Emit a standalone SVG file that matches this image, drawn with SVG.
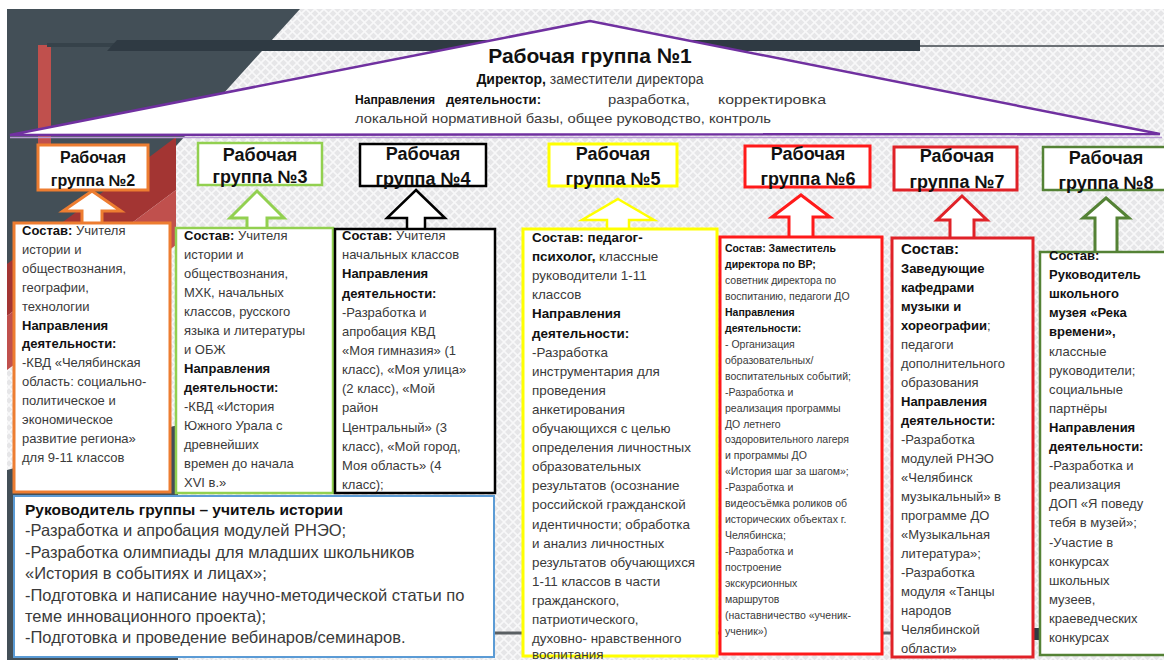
<svg xmlns="http://www.w3.org/2000/svg" width="1164" height="660" viewBox="0 0 1164 660">
<defs>
<pattern id="hatch" width="9" height="9" patternUnits="userSpaceOnUse">
<rect width="9" height="9" fill="#e6e6e8"/>
<path d="M0,0 L9,9 M9,0 L0,9" stroke="#f8f8f9" stroke-width="1.6"/>
</pattern>
<style>
text{font-family:"Liberation Sans",Arial,sans-serif;fill:#3a3a3a}
.b{font-weight:bold;fill:#111}
.hd{font-weight:bold;fill:#111;text-anchor:middle}
.c13{font-size:13px}
.c133{font-size:13.4px}
.c10{font-size:10.5px}
.c16{font-size:16.5px}
.box{fill:#fff}
.arr{fill:#fff;stroke-linejoin:miter}
</style>
</defs>

<!-- background -->
<rect width="1164" height="660" fill="#fff"/>
<rect x="7" y="9" width="1157" height="651" fill="url(#hatch)"/>
<polygon points="7,9 300,9 176,146 7,266" fill="#434f57"/>
<polygon points="176,137 176,190 7,316 7,264" fill="#a33533"/>
<polygon points="176,190 176,245 7,370 7,316" fill="#c0504d"/>
<polygon points="7,470 178,425 178,660 7,660" fill="#434f57"/>
<rect x="38" y="45" width="13" height="100" fill="#c0504d"/>
<rect x="47" y="43" width="70" height="4" fill="#36424a"/>
<polygon points="117,40 920,40 920,51 107,51" fill="#2f3a43"/>
<line x1="920" y1="46" x2="1164" y2="46" stroke="#6b7075" stroke-width="2"/>
<line x1="495" y1="633" x2="1164" y2="633" stroke="#5a5f63" stroke-width="3"/>
<rect x="1032" y="628" width="9" height="12" fill="#2f3a43"/>

<!-- roof: group 1 -->
<g id="group1">
<polygon points="10,135 590,21 1160,134" fill="#fff" stroke="#7030a0" stroke-width="2.5" stroke-linejoin="miter"/>
<line x1="10" y1="137.5" x2="1162" y2="137.5" stroke="#b79ad3" stroke-width="1.5"/>
<text class="hd" x="590" y="63" font-size="21">Рабочая группа №1</text>
<text x="590" y="84" font-size="14" text-anchor="middle"><tspan class="b">Директор,</tspan> заместители директора</text>
<text y="104" font-size="13.5"><tspan class="b" x="355" textLength="80" lengthAdjust="spacingAndGlyphs">Направления</tspan><tspan class="b" x="446" textLength="95" lengthAdjust="spacingAndGlyphs">деятельности:</tspan><tspan x="608" textLength="82" lengthAdjust="spacingAndGlyphs">разработка,</tspan><tspan x="718" textLength="108" lengthAdjust="spacingAndGlyphs">корректировка</tspan></text>
<text x="355" y="123" font-size="13.5" textLength="416" lengthAdjust="spacingAndGlyphs">локальной нормативной базы, общее руководство, контроль</text>
</g>

<!-- connectors: block arrows -->
<g id="connectors" stroke-width="3">
<polygon class="arr" stroke="#ed7d31" points="92,191 121,211 102,211 102,226 82,226 82,211 63,211"/>
<polygon class="arr" stroke="#92d050" points="257,191 284,218 267,218 267,230 247,230 247,218 230,218"/>
<polygon class="arr" stroke="#000" stroke-width="2.5" points="416,190 445,218 425,218 425,231 407,231 407,218 387,218"/>
<polygon class="arr" stroke="#ffff00" stroke-width="2.5" points="618,199 654,220 629,220 629,231 607,231 607,220 582,220"/>
<polygon class="arr" stroke="#ff1a1a" points="801,195 830,217 813,217 813,239 789,239 789,217 772,217"/>
<polygon class="arr" stroke="#e02228" points="962,196 987,220 974,220 974,240 950,240 950,220 937,220"/>
<polygon class="arr" stroke="#548235" points="1106,198 1129,218 1117,218 1117,254 1095,254 1095,218 1083,218"/>
</g>

<!-- group 2 -->
<g id="group2">
<rect class="box" x="38" y="145" width="110" height="45" stroke="#ed7d31" stroke-width="3"/>
<text class="hd" x="93" y="163" font-size="16">Рабочая</text>
<text class="hd" x="93" y="186" font-size="16">группа  №2</text>
<rect class="box" x="14" y="223" width="156" height="269" stroke="#ed7d31" stroke-width="3"/>
<text class="c13">
<tspan x="22" y="235"><tspan class="b">Состав:</tspan> Учителя</tspan>
<tspan x="22" y="253.9">истории и</tspan>
<tspan x="22" y="272.8">обществознания,</tspan>
<tspan x="22" y="291.7">географии,</tspan>
<tspan x="22" y="310.6">технологии</tspan>
<tspan x="22" y="329.5" class="b">Направления</tspan>
<tspan x="22" y="348.4" class="b">деятельности:</tspan>
<tspan x="22" y="367.3">-КВД «Челябинская</tspan>
<tspan x="22" y="386.2">область: социально-</tspan>
<tspan x="22" y="405.1">политическое и</tspan>
<tspan x="22" y="424">экономическое</tspan>
<tspan x="22" y="442.9">развитие региона»</tspan>
<tspan x="22" y="461.8">для 9-11 классов</tspan>
</text>
</g>

<!-- group 3 -->
<g id="group3">
<rect class="box" x="198" y="143" width="124" height="42" stroke="#92d050" stroke-width="2.5"/>
<text class="hd" x="260" y="161" font-size="18">Рабочая</text>
<text class="hd" x="260" y="183" font-size="18">группа №3</text>
<rect class="box" x="176" y="228" width="157" height="265" stroke="#92d050" stroke-width="2.5"/>
<text class="c13">
<tspan x="184" y="240"><tspan class="b">Состав:</tspan> Учителя</tspan>
<tspan x="184" y="259">истории и</tspan>
<tspan x="184" y="278">обществознания,</tspan>
<tspan x="184" y="297">МХК, начальных</tspan>
<tspan x="184" y="316">классов, русского</tspan>
<tspan x="184" y="335">языка и литературы</tspan>
<tspan x="184" y="354">и ОБЖ</tspan>
<tspan x="184" y="373" class="b">Направления</tspan>
<tspan x="184" y="392" class="b">деятельности:</tspan>
<tspan x="184" y="411">-КВД «История</tspan>
<tspan x="184" y="430">Южного Урала с</tspan>
<tspan x="184" y="449">древнейших</tspan>
<tspan x="184" y="468">времен до начала</tspan>
<tspan x="184" y="487">XVI в.»</tspan>
</text>
</g>

<!-- group 4 -->
<g id="group4">
<rect class="box" x="360" y="144" width="126" height="42" stroke="#000" stroke-width="2.5"/>
<text class="hd" x="423" y="160" font-size="18">Рабочая</text>
<text class="hd" x="423" y="185" font-size="18">группа №4</text>
<rect class="box" x="335" y="229" width="160" height="264" stroke="#000" stroke-width="2.5"/>
<text class="c13">
<tspan x="342" y="240"><tspan class="b">Состав:</tspan> Учителя</tspan>
<tspan x="342" y="259.2">начальных классов</tspan>
<tspan x="342" y="278.3" class="b">Направления</tspan>
<tspan x="342" y="297.5" class="b">деятельности:</tspan>
<tspan x="342" y="316.6">-Разработка и</tspan>
<tspan x="342" y="335.8">апробация КВД</tspan>
<tspan x="342" y="354.9">«Моя гимназия» (1</tspan>
<tspan x="342" y="374.1">класс), «Моя улица»</tspan>
<tspan x="342" y="393.2">(2 класс), «Мой</tspan>
<tspan x="342" y="412.4">район</tspan>
<tspan x="342" y="431.5">Центральный» (3</tspan>
<tspan x="342" y="450.7">класс), «Мой город,</tspan>
<tspan x="342" y="469.8">Моя область» (4</tspan>
<tspan x="342" y="489">класс);</tspan>
</text>
</g>

<!-- group 5 -->
<g id="group5">
<rect class="box" x="549" y="144" width="128" height="42" stroke="#ffff00" stroke-width="3"/>
<text class="hd" x="613" y="160" font-size="18">Рабочая</text>
<text class="hd" x="613" y="185" font-size="18">группа №5</text>
<rect class="box" x="523" y="229" width="194" height="427" stroke="#ffff00" stroke-width="3"/>
<text class="c133">
<tspan x="532" y="242" class="b">Состав: педагог-</tspan>
<tspan x="532" y="261.1"><tspan class="b">психолог,</tspan> классные</tspan>
<tspan x="532" y="280.2">руководители 1-11</tspan>
<tspan x="532" y="299.3">классов</tspan>
<tspan x="532" y="318.4" class="b">Направления</tspan>
<tspan x="532" y="337.5" class="b">деятельности:</tspan>
<tspan x="532" y="356.6">-Разработка</tspan>
<tspan x="532" y="375.7">инструментария для</tspan>
<tspan x="532" y="394.8">проведения</tspan>
<tspan x="532" y="413.9">анкетирования</tspan>
<tspan x="532" y="433">обучающихся с целью</tspan>
<tspan x="532" y="452.1">определения личностных</tspan>
<tspan x="532" y="471.2">образовательных</tspan>
<tspan x="532" y="490.3">результатов (осознание</tspan>
<tspan x="532" y="509.4">российской гражданской</tspan>
<tspan x="532" y="528.5">идентичности; обработка</tspan>
<tspan x="532" y="547.6">и анализ личностных</tspan>
<tspan x="532" y="566.7">результатов обучающихся</tspan>
<tspan x="532" y="585.8">1-11 классов в части</tspan>
<tspan x="532" y="604.9">гражданского,</tspan>
<tspan x="532" y="624">патриотического,</tspan>
<tspan x="532" y="643.1">духовно- нравственного</tspan>
<tspan x="532" y="658.5">воспитания</tspan>
</text>
</g>

<!-- group 6 -->
<g id="group6">
<rect class="box" x="745" y="146" width="125" height="41" stroke="#ff1a1a" stroke-width="3"/>
<text class="hd" x="808" y="160" font-size="18">Рабочая</text>
<text class="hd" x="808" y="185" font-size="18">группа №6</text>
<rect class="box" x="720" y="237" width="162" height="417" stroke="#ff1a1a" stroke-width="3"/>
<text class="c10">
<tspan x="725" y="252" class="b">Состав: Заместитель</tspan>
<tspan x="725" y="268" class="b">директора по ВР;</tspan>
<tspan x="725" y="283.9">советник директора по</tspan>
<tspan x="725" y="299.9">воспитанию, педагоги ДО</tspan>
<tspan x="725" y="315.8" class="b">Направления</tspan>
<tspan x="725" y="331.8" class="b">деятельности:</tspan>
<tspan x="725" y="347.7">- Организация</tspan>
<tspan x="725" y="363.7">образовательных/</tspan>
<tspan x="725" y="379.6">воспитательных событий;</tspan>
<tspan x="725" y="395.6">-Разработка и</tspan>
<tspan x="725" y="411.5">реализация программы</tspan>
<tspan x="725" y="427.5">ДО летнего</tspan>
<tspan x="725" y="443.4">оздоровительного лагеря</tspan>
<tspan x="725" y="459.4">и программы ДО</tspan>
<tspan x="725" y="475.3">«История шаг за шагом»;</tspan>
<tspan x="725" y="491.3">-Разработка и</tspan>
<tspan x="725" y="507.2">видеосъёмка роликов об</tspan>
<tspan x="725" y="523.2">исторических объектах г.</tspan>
<tspan x="725" y="539.1">Челябинска;</tspan>
<tspan x="725" y="555.1">-Разработка и</tspan>
<tspan x="725" y="571">построение</tspan>
<tspan x="725" y="587">экскурсионных</tspan>
<tspan x="725" y="602.9">маршрутов</tspan>
<tspan x="725" y="618.9">(наставничество «ученик-</tspan>
<tspan x="725" y="634.8">ученик»)</tspan>
</text>
</g>

<!-- group 7 -->
<g id="group7">
<rect class="box" x="894" y="147" width="123" height="43" stroke="#e02228" stroke-width="3"/>
<text class="hd" x="957" y="162" font-size="18">Рабочая</text>
<text class="hd" x="957" y="188" font-size="18">группа №7</text>
<rect class="box" x="892" y="238" width="141" height="419" stroke="#e02228" stroke-width="3"/>
<text class="c13">
<tspan x="901" y="254" class="b" font-size="15">Состав:</tspan>
<tspan x="901" y="273" class="b">Заведующие</tspan>
<tspan x="901" y="292" class="b">кафедрами</tspan>
<tspan x="901" y="311" class="b">музыки и</tspan>
<tspan x="901" y="330"><tspan class="b">хореографии</tspan>;</tspan>
<tspan x="901" y="349">педагоги</tspan>
<tspan x="901" y="368">дополнительного</tspan>
<tspan x="901" y="387">образования</tspan>
<tspan x="901" y="406" class="b">Направления</tspan>
<tspan x="901" y="425" class="b">деятельности:</tspan>
<tspan x="901" y="444">-Разработка</tspan>
<tspan x="901" y="463">модулей РНЭО</tspan>
<tspan x="901" y="482">«Челябинск</tspan>
<tspan x="901" y="501">музыкальный» в</tspan>
<tspan x="901" y="520">программе ДО</tspan>
<tspan x="901" y="539">«Музыкальная</tspan>
<tspan x="901" y="558">литература»;</tspan>
<tspan x="901" y="577">-Разработка</tspan>
<tspan x="901" y="596">модуля «Танцы</tspan>
<tspan x="901" y="615">народов</tspan>
<tspan x="901" y="634">Челябинской</tspan>
<tspan x="901" y="653">области»</tspan>
</text>
</g>

<!-- group 8 -->
<g id="group8">
<rect class="box" x="1043" y="147" width="125" height="43" stroke="#548235" stroke-width="2.5"/>
<text class="hd" x="1106" y="164" font-size="18">Рабочая</text>
<text class="hd" x="1106" y="189" font-size="18">группа №8</text>
<rect class="box" x="1040" y="252" width="130" height="403" stroke="#548235" stroke-width="2.5"/>
<text class="c13">
<tspan x="1049" y="260" class="b">Состав:</tspan>
<tspan x="1049" y="279.1" class="b">Руководитель</tspan>
<tspan x="1049" y="298.2" class="b">школьного</tspan>
<tspan x="1049" y="317.3" class="b">музея «Река</tspan>
<tspan x="1049" y="336.4" class="b">времени»,</tspan>
<tspan x="1049" y="355.5">классные</tspan>
<tspan x="1049" y="374.6">руководители;</tspan>
<tspan x="1049" y="393.7">социальные</tspan>
<tspan x="1049" y="412.8">партнёры</tspan>
<tspan x="1049" y="431.9" class="b">Направления</tspan>
<tspan x="1049" y="451" class="b">деятельности:</tspan>
<tspan x="1049" y="470.1">-Разработка и</tspan>
<tspan x="1049" y="489.2">реализация</tspan>
<tspan x="1049" y="508.3">ДОП «Я поведу</tspan>
<tspan x="1049" y="527.4">тебя в музей»;</tspan>
<tspan x="1049" y="546.5">-Участие в</tspan>
<tspan x="1049" y="565.6">конкурсах</tspan>
<tspan x="1049" y="584.7">школьных</tspan>
<tspan x="1049" y="603.8">музеев,</tspan>
<tspan x="1049" y="622.9">краеведческих</tspan>
<tspan x="1049" y="642">конкурсах</tspan>
</text>
</g>

<!-- group leader box -->
<g id="leader">
<rect class="box" x="14" y="496" width="480" height="161" stroke="#5b9bd5" stroke-width="2"/>
<text class="c16">
<tspan x="25" y="515" class="b" font-size="15.5">Руководитель группы – учитель истории</tspan>
<tspan x="25" y="536.4">-Разработка  и апробация модулей РНЭО;</tspan>
<tspan x="25" y="557.8">-Разработка олимпиады для младших  школьников</tspan>
<tspan x="25" y="579.2">«История в событиях и лицах»;</tspan>
<tspan x="25" y="600.6">-Подготовка и написание научно-методической статьи по</tspan>
<tspan x="25" y="622">теме инновационного проекта);</tspan>
<tspan x="25" y="643.4">-Подготовка  и проведение вебинаров/семинаров.</tspan>
</text>
</g>
</svg>
